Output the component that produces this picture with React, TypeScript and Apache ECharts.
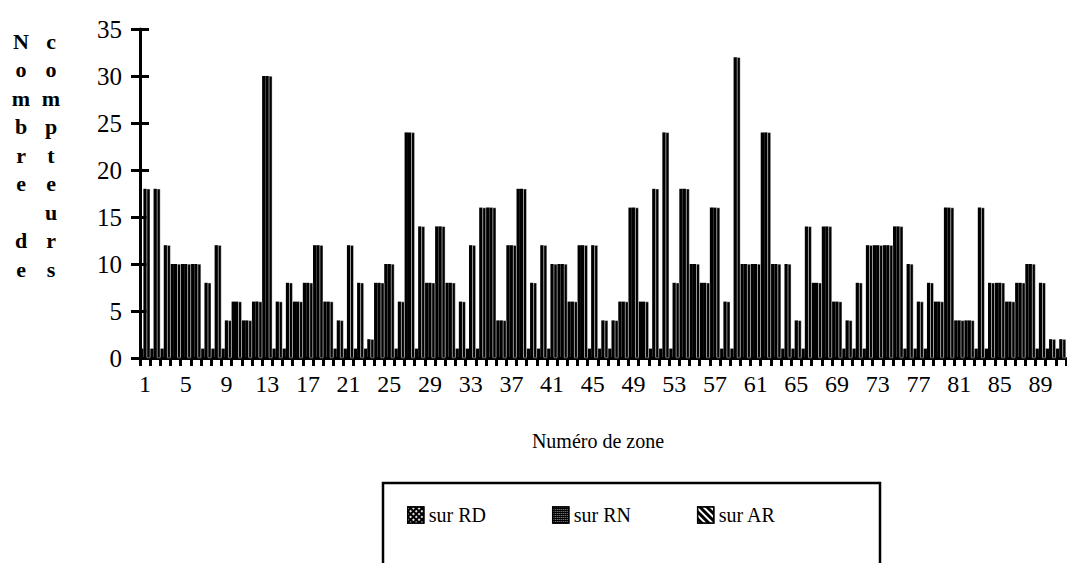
import React, { useEffect, useRef } from "react";
import * as echarts from "echarts";

// Zones 1..91
const zones: string[] = Array.from({ length: 91 }, (_, i) => String(i + 1));

// Number of counters per zone
const surRD: number[] = [
  1, 1, 1, 10, 10, 10, 1, 1, 1, 6,
  4, 6, 30, 1, 1, 6, 8, 12, 6, 1,
  1, 1, 1, 8, 10, 1, 24, 1, 8, 14,
  8, 1, 1, 1, 16, 4, 12, 18, 1, 1,
  1, 10, 6, 12, 1, 1, 1, 6, 16, 6,
  1, 1, 1, 18, 10, 8, 16, 1, 1, 10,
  10, 24, 10, 1, 1, 1, 8, 14, 6, 1,
  1, 1, 12, 12, 14, 1, 1, 1, 6, 16,
  4, 4, 1, 1, 8, 6, 8, 10, 1, 1, 1,
];
const surRN: number[] = [
  18, 18, 12, 10, 10, 10, 8, 12, 4, 6,
  4, 6, 30, 6, 8, 6, 8, 12, 6, 4,
  12, 8, 2, 8, 10, 6, 24, 14, 8, 14,
  8, 6, 12, 16, 16, 4, 12, 18, 8, 12,
  10, 10, 6, 12, 12, 4, 4, 6, 16, 6,
  18, 24, 8, 18, 10, 8, 16, 6, 32, 10,
  10, 24, 10, 10, 4, 14, 8, 14, 6, 4,
  8, 12, 12, 12, 14, 10, 6, 8, 6, 16,
  4, 4, 16, 8, 8, 6, 8, 10, 8, 2, 2,
];
const surAR: number[] = [
  18, 18, 12, 10, 10, 10, 8, 12, 4, 6,
  4, 6, 30, 6, 8, 6, 8, 12, 6, 4,
  12, 8, 2, 8, 10, 6, 24, 14, 8, 14,
  8, 6, 12, 16, 16, 4, 12, 18, 8, 12,
  10, 10, 6, 12, 12, 4, 4, 6, 16, 6,
  18, 24, 8, 18, 10, 8, 16, 6, 32, 10,
  10, 24, 10, 10, 4, 14, 8, 14, 6, 4,
  8, 12, 12, 12, 14, 10, 6, 8, 6, 16,
  4, 4, 16, 8, 8, 6, 8, 10, 8, 2, 2,
];

const seriesNames = ["sur RD", "sur RN", "sur AR"];
const yTitleLeft = "N\no\nm\nb\nr\ne\n\nd\ne";
const yTitleRight = "c\no\nm\np\nt\ne\nu\nr\ns";
const xTitle = "Numéro de zone";

const FONT = "Liberation Serif";

export default function App() {
  const ref = useRef<HTMLDivElement>(null);
  useEffect(() => {
    document.body.style.margin = "0";
    const chart = echarts.init(ref.current!, null, { renderer: "svg" });
    const barItem = { color: "#000", borderColor: "#000", borderWidth: 0 };
    const decals = [
      {
        color: "#fff",
        symbol: "rect",
        symbolSize: 0.9,
        dashArrayX: [2, 2],
        dashArrayY: [2, 2],
        rotation: Math.PI / 4,
      },
      {
        color: "#999",
        symbol: "rect",
        symbolSize: 1,
        dashArrayX: [1, 1],
        dashArrayY: [1, 1],
        rotation: 0,
      },
      {
        color: "#fff",
        symbol: "rect",
        symbolSize: 1,
        dashArrayX: [1, 0],
        dashArrayY: [2, 3],
        rotation: Math.PI / 4,
      },
    ];
    chart.setOption({
      animation: false,
      backgroundColor: "#fff",
      textStyle: { fontFamily: FONT, color: "#000" },
      grid: { left: 140, right: 1, top: 29, bottom: 205 },
      legend: {
        data: seriesNames.map((n, i) => ({
          name: n,
          itemStyle: { color: "#000", borderColor: "#000", borderWidth: 1.5, decal: decals[i] },
        })),
        left: 402,
        top: 500,
        icon: "rect",
        itemWidth: 16,
        itemHeight: 16,
        itemGap: 66,
        textStyle: { fontFamily: FONT, fontSize: 20, color: "#000" },
      },
      xAxis: {
        type: "category",
        data: zones,
        boundaryGap: true,
        axisLine: { lineStyle: { color: "#000", width: 3 } },
        axisTick: { show: true, interval: 0, length: 8, lineStyle: { color: "#000", width: 3 } },
        axisLabel: { interval: 3, fontSize: 24, color: "#000", fontFamily: FONT, margin: 14 },
        splitLine: { show: false },
      },
      yAxis: [
        {
          type: "value",
          min: 0,
          max: 35,
          interval: 5,
          axisLine: { show: true, lineStyle: { color: "#000", width: 3 } },
          axisTick: { show: true, length: 9, lineStyle: { color: "#000", width: 3 } },
          axisLabel: { fontSize: 25, color: "#000", fontFamily: FONT, margin: 18 },
          splitLine: { show: false },
        },
        {
          type: "value",
          min: 0,
          max: 35,
          interval: 5,
          position: "left",
          offset: 0,
          axisLine: { show: false },
          axisTick: { show: true, inside: true, length: 9, lineStyle: { color: "#000", width: 3 } },
          axisLabel: { show: false },
          splitLine: { show: false },
        },
      ],
      series: [
        {
          name: seriesNames[0],
          type: "bar",
          data: surRD,
          barGap: "0%",
          barCategoryGap: "0%",
          itemStyle: barItem,
        },
        {
          name: seriesNames[1],
          type: "bar",
          data: surRN,
          barGap: "0%",
          barCategoryGap: "0%",
          itemStyle: barItem,
        },
        {
          name: seriesNames[2],
          type: "bar",
          data: surAR,
          barGap: "0%",
          barCategoryGap: "0%",
          itemStyle: { ...barItem, borderColor: "#fff", borderWidth: 0.4 },
        },
      ],
      graphic: [
        {
          type: "text",
          x: 21,
          y: 27,
          style: {
            text: yTitleLeft,
            fontFamily: FONT,
            fontSize: 22,
            fontWeight: "bold",
            lineHeight: 28.5,
            textAlign: "center",
            fill: "#000",
          },
        },
        {
          type: "text",
          x: 51,
          y: 27,
          style: {
            text: yTitleRight,
            fontFamily: FONT,
            fontSize: 22,
            fontWeight: "bold",
            lineHeight: 28.5,
            textAlign: "center",
            fill: "#000",
          },
        },
        {
          type: "text",
          x: 598,
          y: 441,
          style: {
            text: xTitle,
            fontFamily: FONT,
            fontSize: 20,
            textAlign: "center",
            textVerticalAlign: "middle",
            fill: "#000",
          },
        },
        {
          type: "rect",
          shape: { x: 383, y: 483, width: 497, height: 110 },
          style: { fill: "none", stroke: "#000", lineWidth: 2.5 },
          z: 10,
        },
      ],
    });
    return () => chart.dispose();
  }, []);
  return <div ref={ref} style={{ width: 1067, height: 563 }} />;
}
